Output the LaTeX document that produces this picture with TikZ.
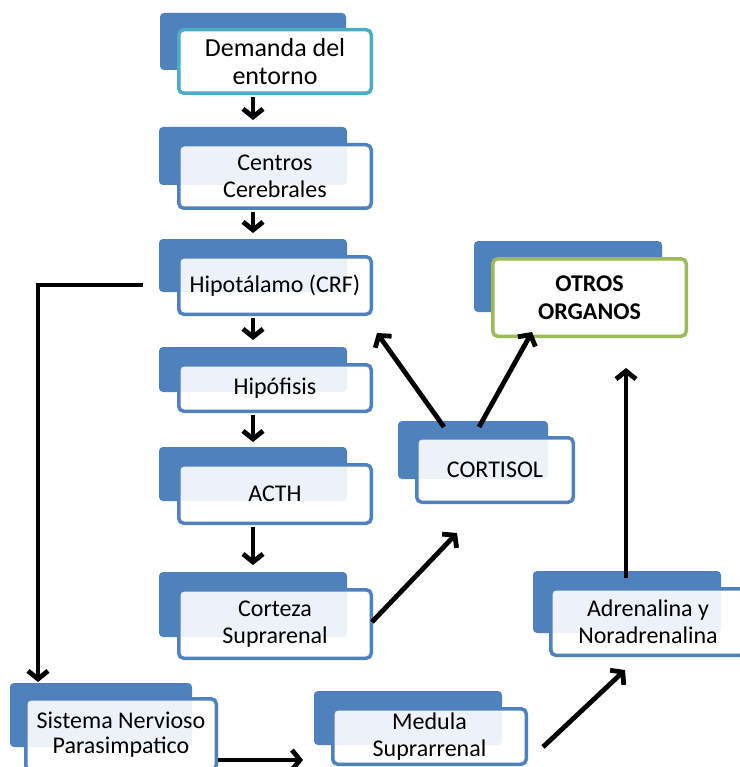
\documentclass[tikz,border=0pt]{standalone}
\usepackage{fontspec}
\setmainfont{Carlito}
\usetikzlibrary{arrows.meta,calc}
\definecolor{bl}{HTML}{4F81BD}
\definecolor{tealc}{HTML}{4BACC6}
\definecolor{grn}{HTML}{9BBB59}
\begin{document}
\begin{tikzpicture}[x=1pt,y=-1pt,
  back/.style={fill=bl, rounded corners=4pt, inner sep=0pt, outer sep=0pt},
  front/.style={draw=bl, line width=3.5pt, fill=white, fill opacity=0.9, text opacity=1,
    rounded corners=5pt, inner sep=0pt, align=center,
    font=\fontsize{24}{27}\selectfont},
  arr/.style={line width=4.8pt, -{Straight Barb[length=8pt,width=20pt]}}
]
\useasboundingbox (0,0) rectangle (739,767);
% Demanda del entorno
\node[back, minimum width=186pt, minimum height=57pt] (demB) at (253,41.5) {};
\node[front, draw=tealc, fill opacity=1, minimum width=192.5pt, minimum height=63.5pt,
  font=\fontsize{26}{28}\selectfont] (dem) at (275,61.5) {Demanda del\\entorno};
% Centros Cerebrales
\node[back, minimum width=188pt, minimum height=58pt] (cenB) at (253,156) {};
\node[front, minimum width=192.5pt, minimum height=63.5pt] (cen) at (275,176.5) {Centros\\Cerebrales};
% Hipotalamo
\node[back, minimum width=188pt, minimum height=53pt] (hipB) at (253,265.5) {};
\node[front, minimum width=192.5pt, minimum height=57.5pt] (hip) at (275,285.5) {Hipotálamo (CRF)};
% Hipofisis
\node[back, minimum width=188pt, minimum height=45pt] (hfB) at (253,369.5) {};
\node[front, minimum width=192.5pt, minimum height=46.5pt] (hf) at (275,388) {Hipófisis};
% ACTH
\node[back, minimum width=188pt, minimum height=54pt] (acB) at (253,474) {};
\node[front, minimum width=192.5pt, minimum height=58.5pt] (ac) at (275,494) {ACTH};
% Corteza Suprarenal
\node[back, minimum width=188pt, minimum height=65pt] (coB) at (253,604.5) {};
\node[front, minimum width=192.5pt, minimum height=68.5pt] (co) at (275,624) {Corteza\\Suprarenal};
% CORTISOL
\node[back, minimum width=150pt, minimum height=58pt] (ctB) at (473,450) {};
\node[front, minimum width=156.5pt, minimum height=64.5pt] (ct) at (495,470) {CORTISOL};
% OTROS ORGANOS
\node[back, minimum width=188pt, minimum height=71pt] (otB) at (568,276.5) {};
\node[front, draw=grn, fill opacity=1, minimum width=193.5pt, minimum height=77.5pt,
  font=\fontsize{24}{28}\selectfont\bfseries] (ot) at (589.5,297.5) {OTROS\\ORGANOS};
% Adrenalina
\node[back, minimum width=188pt, minimum height=62pt] (adB) at (627,602) {};
\node[front, minimum width=194.5pt, minimum height=66.5pt] (ad) at (648,622) {Adrenalina y\\Noradrenalina};
% Sistema Nervioso Parasimpatico
\node[back, minimum width=182pt, minimum height=64pt] (snB) at (101,715) {};
\node[front, minimum width=190.5pt, minimum height=71.5pt, font=\fontsize{24}{25}\selectfont] (sn) at (121,734.5) {Sistema Nervioso\\Parasimpatico};
% Medula Suprarrenal
\node[back, minimum width=188pt, minimum height=54pt] (meB) at (408,718) {};
\node[front, minimum width=193.5pt, minimum height=55.5pt] (me) at (429.5,736.5) {Medula\\Suprarrenal};

% free ends
\coordinate (c1) at (457,533);
\coordinate (c2s) at (444,427);
\coordinate (c2) at (377,333);
\coordinate (c3s) at (479,427);
\coordinate (c3) at (532,332);
\coordinate (c4s) at (626,578);
\coordinate (c4) at (626,368);
\coordinate (c5s) at (543,747);
\coordinate (c5) at (625,670);
\coordinate (l1) at (143,285);
\coordinate (l2) at (38,285);

% vertical chain
\draw[arr, shorten <=2pt, shorten >=7pt] (dem.south -| demB.center) -- (cenB.north);
\draw[arr, shorten <=2pt, shorten >=6pt] (cen.south -| cenB.center) -- (hipB.north);
\draw[arr, shorten <=2pt, shorten >=7pt] (hip.south -| hipB.center) -- (hfB.north);
\draw[arr, shorten <=2pt, shorten >=5pt] (hf.south -| hfB.center) -- (acB.north);
\draw[arr, shorten <=2pt, shorten >=7pt] (ac.south -| acB.center) -- (coB.north);
% diagonals
\draw[arr] (co.east) ++(-1,-2) -- (c1);
\draw[arr] (c2s) -- (c2);
\draw[arr] (c3s) -- (c3);
\draw[arr] (c4s) -- (c4);
\draw[arr] (c5s) -- (c5);
% sistema -> medula
\draw[arr, shorten >=11pt] (sn.east |- 0,760) -- (meB.west |- 0,760);
% hipotalamo -> sistema
\draw[arr, line join=miter, shorten >=1pt] (l1) -- (l2) -- (l2 |- snB.north);
\end{tikzpicture}
\end{document}
